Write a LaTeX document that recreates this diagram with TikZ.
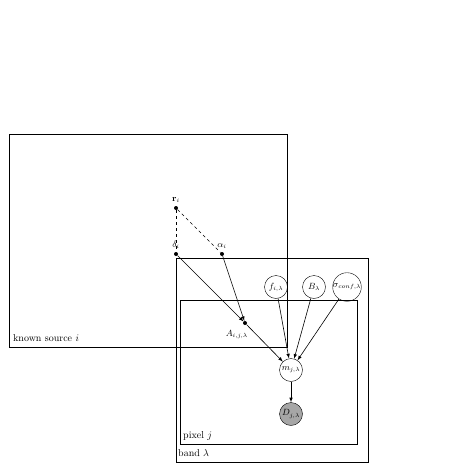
\documentclass[tikz,border=0pt]{standalone}
\usetikzlibrary{arrows}
\begin{document}
\begin{tikzpicture}[x=1pt,y=-1pt,>=latex,
    var/.style={draw, shape=circle, minimum size=23pt, inner sep=0pt, font=\small},
    dot/.style={fill, shape=circle, minimum size=4pt, inner sep=0pt},
    edge/.style={semithick}]
                \useasboundingbox (0,0) rectangle (463,463);

                % plates
                \draw (9,134) rectangle (287,347);
                \draw (176,258) rectangle (368,462);
                \draw (180,300) rectangle (357,444);
                \node (ksrc) at (11,341) [anchor=base west, inner sep=2pt] {known source $i$};
                \node (band) at (176,456) [anchor=base west, inner sep=2pt] {band $\lambda$};
                \node (pix) at (181,438) [anchor=base west, inner sep=2pt] {pixel $j$};

                \node (r) at (176,208) [dot, label={[font=\small]above:$\mathbf{r}_i$}] {};
                \node (d) at (176,254) [dot, label={[font=\small]above:$\delta_i$}] {};
                \node (a) at (222,254) [dot, label={[font=\small]above:$\alpha_i$}] {};
                \node (A) at (245,323) [dot, label={[font=\small, xshift=8pt, yshift=-2pt]below left:$A_{i,j,\lambda}$}] {};

                \node (f) at (276,287) [var] {$f_{i,\lambda}$};
                \node (B) at (314,287) [var] {$B_\lambda$};
                \node (s) at (347,287) [var, minimum size=28pt] {$\sigma_{conf,\lambda}$};
                \node (m) at (291,370) [var] {$m_{j,\lambda}$};
                \node (D) at (291,414) [var, fill=gray!70] {$D_{j,\lambda}$};

                \draw[edge, dashed] (r) -- (d);
                \draw[edge, dashed] (r) -- (a);
                \draw[edge, ->] (d) -- (A);
                \draw[edge, ->] (a) -- (A);
                \draw[edge, ->] (A) -- (m);
                \draw[edge, ->] (f) -- (m);
                \draw[edge, ->] (B) -- (m);
                \draw[edge, ->] (s) -- (m);
                \draw[edge, ->] (m) -- (D);
            \end{tikzpicture}
\end{document}
